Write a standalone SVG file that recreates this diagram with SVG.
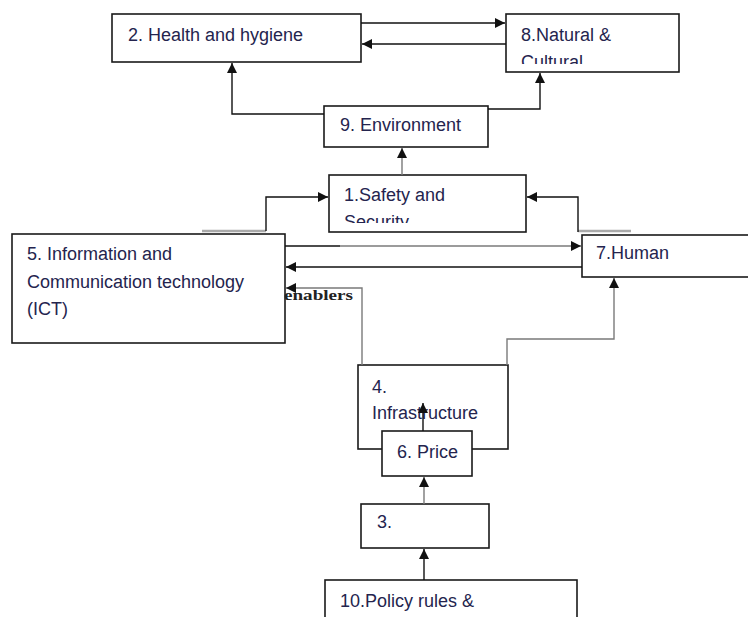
<svg xmlns="http://www.w3.org/2000/svg" width="748" height="617" viewBox="0 0 748 617">
  <style>
    .box { fill: #ffffff; stroke: #1a1a1a; stroke-width: 1.6; }
    .lbl { font-family: "Liberation Sans", Arial, sans-serif; font-size: 18px; fill: #24244e; }
    .ln { fill: none; stroke: #111111; stroke-width: 1.4; }
    .gr { fill: none; stroke: #7a7a7a; stroke-width: 1.4; }
    .stub { fill: none; stroke: #aaaaaa; stroke-width: 2.5; }
    .note { font-family: "Liberation Serif", "Times New Roman", serif; font-size: 15px; font-weight: bold; fill: #222222; }
  </style>
  <defs>
    <marker id="ah" viewBox="0 0 10 10" refX="10" refY="5" markerWidth="10" markerHeight="10" markerUnits="userSpaceOnUse" orient="auto">
      <path d="M0,0 L10,5 L0,10 Z" fill="#111111"/>
    </marker>
    <clipPath id="clip8"><rect x="506" y="14" width="173" height="50"/></clipPath>
    <clipPath id="clip1"><rect x="329" y="175" width="197" height="48"/></clipPath>
  </defs>

  <rect width="748" height="617" fill="#ffffff"/>

  <!-- nodes -->
  <g id="node-2">
    <rect class="box" x="112" y="14" width="249" height="48"/>
    <text class="lbl" x="128" y="41">2. Health and hygiene</text>
  </g>
  <g id="node-8">
    <rect class="box" x="506" y="14" width="173" height="58"/>
    <g clip-path="url(#clip8)">
      <text class="lbl" x="521" y="41">8.Natural &amp;</text>
      <text class="lbl" x="521" y="68">Cultural</text>
    </g>
  </g>
  <g id="node-9">
    <rect class="box" x="324" y="106" width="164" height="41"/>
    <text class="lbl" x="340" y="131">9. Environment</text>
  </g>
  <g id="node-1">
    <rect class="box" x="329" y="175" width="197" height="57"/>
    <g clip-path="url(#clip1)">
      <text class="lbl" x="344" y="201">1.Safety and</text>
      <text class="lbl" x="344" y="228">Security</text>
    </g>
  </g>
  <g id="node-5">
    <rect class="box" x="12" y="234" width="273" height="109"/>
    <text class="lbl" x="27" y="260">5. Information and</text>
    <text class="lbl" x="27" y="288">Communication technology</text>
    <text class="lbl" x="27" y="315">(ICT)</text>
  </g>
  <g id="node-7">
    <rect class="box" x="582" y="235" width="170" height="42"/>
    <text class="lbl" x="596" y="259">7.Human</text>
  </g>
  <g id="node-4">
    <rect class="box" x="358" y="365" width="150" height="84"/>
    <text class="lbl" x="372" y="393">4.</text>
    <text class="lbl" x="372" y="419">Infrastructure</text>
  </g>
  <g id="node-6">
    <rect class="box" x="382" y="431" width="90" height="45"/>
    <text class="lbl" x="397" y="458">6. Price</text>
  </g>
  <g id="node-3">
    <rect class="box" x="361" y="504" width="128" height="44"/>
    <text class="lbl" x="377" y="528">3.</text>
  </g>
  <g id="node-10">
    <rect class="box" x="325" y="580" width="252" height="42"/>
    <text class="lbl" x="340" y="607">10.Policy rules &amp;</text>
  </g>

  <!-- connectors -->
  <g id="connectors">
    <path class="ln" d="M361,23 H505" marker-end="url(#ah)"/>
    <path class="ln" d="M506,44 H362" marker-end="url(#ah)"/>
    <path class="ln" d="M324,114 H232 V63" marker-end="url(#ah)"/>
    <path class="ln" d="M488,109 H540 V73" marker-end="url(#ah)"/>
    <path class="gr" d="M402,175 V148" marker-end="url(#ah)"/>
    <path class="stub" d="M202,231 H266"/>
    <path class="ln" d="M266,231 V197 H328" marker-end="url(#ah)"/>
    <path class="stub" d="M578,231 H631"/>
    <path class="ln" d="M578,232 V197 H527" marker-end="url(#ah)"/>
    <path class="ln" d="M285,246 H340"/>
    <path class="gr" d="M340,246 H581" marker-end="url(#ah)"/>
    <path class="ln" d="M582,267 H286" marker-end="url(#ah)"/>
    <path class="gr" d="M362,365 V288 H286" marker-end="url(#ah)"/>
    <path class="gr" d="M507,365 V339 H614 V278" marker-end="url(#ah)"/>
    <path class="ln" d="M423,431 V403" marker-end="url(#ah)"/>
    <path class="gr" d="M424,504 V477" marker-end="url(#ah)"/>
    <path class="ln" d="M424,580 V549" marker-end="url(#ah)"/>
    <text class="note" x="284" y="300" textLength="69" lengthAdjust="spacingAndGlyphs">enablers</text>
  </g>
</svg>
